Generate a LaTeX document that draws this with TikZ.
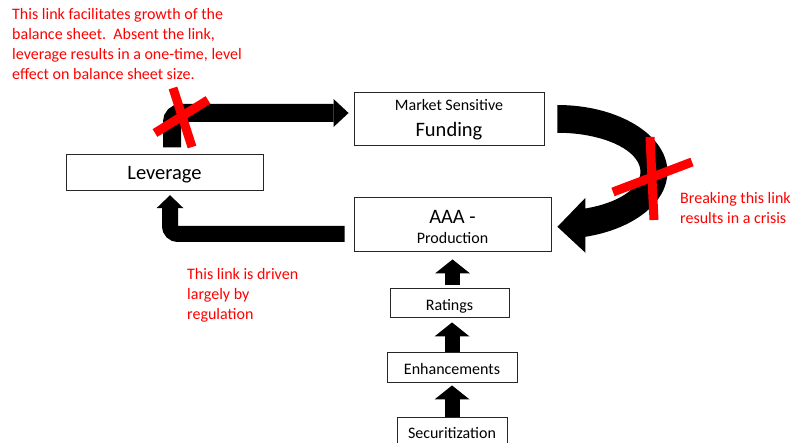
\documentclass[tikz,border=0pt]{standalone}
\usepackage{fontspec}
\setmainfont{Carlito}
\usetikzlibrary{arrows.meta}
\begin{document}
\begin{tikzpicture}[x=1pt,y=-1pt,
  box/.style={draw=black!85, line width=0.9pt, fill=white, inner sep=0pt, align=center},
  note/.style={text=red, font=\fontsize{16}{19.7}\selectfont, align=left, inner sep=0pt, anchor=base west},
  upblock/.style={line width=15pt, draw=black, -{Triangle[width=35pt,length=14pt,line width=0pt]}},
  bentblock/.style={draw=black, line width=#1, rounded corners=#1/2},
  crossbar/.style={draw=red, line width=9pt}
]
\useasboundingbox (0,0) rectangle (793,443);

% boxes
\node[box, minimum width=197pt, minimum height=35.5pt, text height=19pt, text depth=4pt,
  font=\fontsize{20.5}{24}\selectfont] (lev) at (164.5,172.5) {Leverage};
\node[box, minimum width=190pt, minimum height=53pt, text height=38pt, text depth=1.6pt,
  font=\fontsize{16}{26}\selectfont] (fund) at (449,118.5)
  {Market Sensitive\\{\fontsize{20.5}{26}\selectfont Funding}};
\node[box, minimum width=197pt, minimum height=54pt, text height=39pt, text depth=0.4pt,
  font=\fontsize{16}{20}\selectfont] (aaa) at (452.5,224)
  {{\fontsize{20.5}{20}\selectfont AAA -}\\Production};
\node[box, minimum width=119pt, minimum height=29pt, text height=20pt, text depth=3pt,
  font=\fontsize{16}{19}\selectfont] (rat) at (449.5,302.5) {Ratings};
\node[box, minimum width=130pt, minimum height=30pt, text height=18.6pt, text depth=4pt,
  font=\fontsize{16}{19}\selectfont] (enh) at (452,367) {Enhancements};
\node[box, minimum width=110pt, minimum height=30pt, text height=16.6pt, text depth=4pt,
  font=\fontsize{16}{19}\selectfont] (sec) at (452,432) {Securitization};

% straight block arrows up the chain
\draw[upblock] ([shift={(3pt,3pt)}]rat.north) -- ([yshift=-8pt]aaa.south);
\draw[upblock] (enh.north) -- ([shift={(2.5pt,-5pt)}]rat.south);
\draw[upblock] (sec.north) -- ([yshift=-3pt]enh.south);

% bent block arrows
\draw[bentblock=18pt, -{Triangle[width=28pt,length=15pt,line width=0pt]}]
  ([shift={(7.5pt,7pt)}]lev.north) |- ([shift={(-5pt,5.5pt)}]fund.west);
\draw[bentblock=16pt, -{Triangle[width=27pt,length=13pt,line width=0pt]}]
  ([shift={(-9pt,-10pt)}]aaa.west) -| ([shift={(5.5pt,-4.5pt)}]lev.south);

% curved arrow from funding back to production
\fill[black] ([shift={(13pt,13.5pt)}]fund.east)
  arc[start angle=90, end angle=-75.26, x radius=110pt, y radius=67pt]
  -- ++(0pt,-16pt) -- ++(-28pt,26pt) -- ++(28pt,29pt) -- ++(0pt,-10.7pt)
  arc[start angle=-70.3, end angle=90, x radius=83pt, y radius=39pt]
  -- cycle;

% red crosses on the links
\draw[crossbar] (173,88) -- (192,147);
\draw[crossbar] (155,133) -- (208,100);
\draw[crossbar] (650,137) -- (654,220);
\draw[crossbar] (613,192) -- (692,162);

% annotations (anchored at the baseline of their last line)
\node[note] (n1) at (12,79.1) {This link facilitates growth of the\\balance sheet.\ \ Absent the link,\\leverage results in a one-time, level\\effect on balance sheet size.};
\node[note] (n2) at (680,223.5) {Breaking this link\\results in a crisis};
\node[note] (n3) at (187,319.4) {This link is driven\\largely by\\regulation};
\end{tikzpicture}
\end{document}
